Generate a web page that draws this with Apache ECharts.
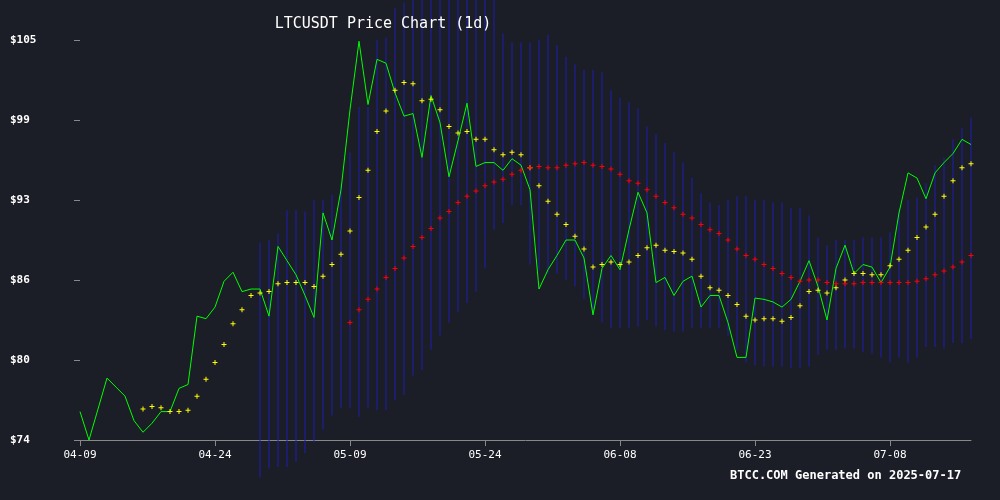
<!DOCTYPE html>
<html>
<head>
<meta charset="utf-8">
<script src="https://cdn.jsdelivr.net/npm/echarts@6/dist/echarts.min.js"></script>
<style>
  html, body { margin: 0; padding: 0; background: #1b1d27; }
  #main { width: 1000px; height: 500px; }
</style>
</head>
<body>
<div id="main"></div>
<script>
// 04-09 .. 07-17, one point per day
const dates = [];
(function () {
  const d = new Date(Date.UTC(2025, 3, 9));
  for (let i = 0; i < 100; i++) {
    dates.push(String(d.getUTCMonth() + 1).padStart(2, '0') + '-' + String(d.getUTCDate()).padStart(2, '0'));
    d.setUTCDate(d.getUTCDate() + 1);
  }
})();

const price = [
  76.2, 74.0, 76.4, 78.8, 78.1, 77.4, 75.5, 74.6, 75.3, 76.2,
  76.2, 78.0, 78.3, 83.6, 83.4, 84.3, 86.3, 87.0, 85.5, 85.7,
  85.7, 83.6, 89.0, 87.9, 86.8, 85.2, 83.5, 91.6, 89.5, 93.4,
  99.6, 104.9, 100.0, 103.5, 103.2, 100.9, 99.1, 99.3, 95.9, 100.7,
  98.6, 94.4, 97.2, 100.1, 95.2, 95.5, 95.5, 94.9, 95.8, 95.3,
  93.4, 85.7, 87.2, 88.3, 89.5, 89.5, 88.1, 83.7, 87.3, 88.3,
  87.2, 90.3, 93.2, 91.6, 86.2, 86.6, 85.2, 86.3, 86.7, 84.3,
  85.2, 85.2, 83.1, 80.4, 80.4, 85.0, 84.9, 84.7, 84.3, 84.9,
  86.3, 87.9, 85.9, 83.3, 87.3, 89.1, 86.9, 87.6, 87.4, 86.2,
  87.4, 91.6, 94.7, 94.3, 92.7, 94.7, 95.5, 96.2, 97.3, 96.9
];

const maShort = [
  null, null, null, null, null, null, null, 76.4, 76.6, 76.5,
  76.2, 76.2, 76.3, 77.4, 78.7, 80.0, 81.4, 83.0, 84.1, 85.2,
  85.4, 85.5, 86.1, 86.2, 86.2, 86.2, 85.9, 86.7, 87.6, 88.4,
  90.2, 92.8, 94.9, 97.9, 99.5, 101.1, 101.7, 101.6, 100.3, 100.4,
  99.6, 98.3, 97.8, 97.9, 97.3, 97.3, 96.5, 96.1, 96.3, 96.1,
  95.1, 93.7, 92.5, 91.5, 90.7, 89.8, 88.8, 87.4, 87.6, 87.8,
  87.6, 87.8, 88.3, 88.9, 89.1, 88.7, 88.6, 88.5, 88.0, 86.7,
  85.8, 85.6, 85.2, 84.5, 83.6, 83.3, 83.4, 83.4, 83.2, 83.5,
  84.4, 85.5, 85.6, 85.4, 85.8, 86.4, 86.9, 86.9, 86.8, 86.8,
  87.5, 88.0, 88.7, 89.7, 90.5, 91.5, 92.9, 94.1, 95.1, 95.4
];

const maLong = [
  null, null, null, null, null, null, null, null, null, null,
  null, null, null, null, null, null, null, null, null, null,
  null, null, null, null, null, null, null, null, null, null,
  83.1, 84.1, 84.9, 85.7, 86.6, 87.3, 88.1, 89.0, 89.7, 90.4,
  91.2, 91.7, 92.4, 92.9, 93.3, 93.7, 94.0, 94.2, 94.6, 94.9,
  95.1, 95.2, 95.1, 95.1, 95.3, 95.4, 95.5, 95.3, 95.2, 95.0,
  94.6, 94.1, 93.9, 93.4, 92.9, 92.4, 92.0, 91.5, 91.2, 90.7,
  90.3, 90.0, 89.5, 88.8, 88.3, 88.0, 87.6, 87.3, 86.9, 86.6,
  86.3, 86.4, 86.4, 86.2, 86.1, 86.1, 86.1, 86.2, 86.2, 86.2,
  86.2, 86.2, 86.2, 86.3, 86.5, 86.8, 87.1, 87.4, 87.8, 88.3
];

const bandUpper = [
  null, null, null, null, null, null, null, null, null, null,
  null, null, null, null, null, null, null, null, null, null,
  89.3, 89.5, 90.0, 91.8, 91.8, 91.7, 92.6, 92.6, 93.0, 93.8,
  96.3, 99.8, 99.8, 105.0, 105.2, 107.5, 107.9, 108.1, 108.1, 108.1,
  108.1, 108.1, 108.1, 108.1, 108.1, 108.1, 108.1, 105.5, 104.8, 104.8,
  104.8, 105.0, 105.4, 104.6, 103.7, 103.1, 102.7, 102.7, 102.5, 101.1,
  100.5, 100.2, 99.7, 98.3, 97.7, 97.0, 96.3, 95.5, 94.3, 93.1,
  92.4, 92.2, 92.6, 92.9, 92.9, 92.6, 92.6, 92.4, 92.4, 92.0,
  92.0, 91.4, 89.7, 89.1, 89.5, 89.5, 89.5, 89.7, 89.7, 89.7,
  90.1, 91.8, 92.6, 92.8, 93.9, 95.3, 95.9, 97.3, 98.2, 99.0
];

const bandLower = [
  null, null, null, null, null, null, null, null, null, null,
  null, null, null, null, null, null, null, null, null, null,
  71.1, 71.8, 71.9, 71.9, 72.3, 73.0, 73.8, 74.8, 75.9, 76.5,
  76.5, 75.8, 76.5, 76.3, 76.3, 77.1, 77.5, 79.0, 79.4, 81.0,
  82.1, 83.1, 83.9, 84.6, 85.5, 87.3, 90.3, 90.8, 92.2, 92.2,
  87.6, 87.2, 86.9, 86.9, 86.4, 85.9, 84.9, 83.7, 83.1, 82.7,
  82.7, 82.7, 82.8, 83.3, 82.8, 82.5, 82.4, 82.4, 82.7, 82.7,
  82.7, 82.7, 82.1, 81.0, 80.0, 79.8, 79.7, 79.7, 79.7, 79.6,
  79.6, 79.7, 80.6, 81.0, 81.0, 81.1, 81.1, 80.8, 80.7, 80.4,
  80.0, 80.4, 80.0, 80.4, 81.2, 81.2, 81.1, 81.5, 81.5, 81.8
];

const bandSpan = bandUpper.map((u, i) => u == null ? null : +(u - bandLower[i]).toFixed(1));

const plus = 'path://M4,0H6V4H10V6H6V10H4V6H0V4H4Z';
const mono = '"DejaVu Sans Mono", monospace';

const chart = echarts.init(document.getElementById('main'));
chart.setOption({
  backgroundColor: '#1b1d27',
  animation: false,
  title: {
    text: 'LTCUSDT Price Chart (1d)',
    left: 378, top: 12, textAlign: 'center',
    textStyle: { color: '#ffffff', fontFamily: mono, fontSize: 15, fontWeight: 'normal' }
  },
  graphic: [{
    type: 'text', left: 730, top: 470,
    style: { text: 'BTCC.COM Generated on 2025-07-17', fill: '#ffffff', font: 'bold 12px ' + mono }
  }],
  grid: { left: 80, right: 29, top: 40, bottom: 60 },
  xAxis: {
    type: 'category', data: dates, boundaryGap: false,
    axisLine: { lineStyle: { color: '#888888' } },
    axisTick: { length: 6, interval: (i) => i % 15 === 0, lineStyle: { color: '#888888' } },
    axisLabel: { interval: (i) => i % 15 === 0, color: '#ffffff', fontFamily: mono, fontSize: 11, margin: 10 },
    splitLine: { show: false }
  },
  yAxis: {
    type: 'value', min: 74, max: 105, interval: 6.2,
    axisLine: { show: false },
    axisTick: { show: true, length: 6, inside: false, lineStyle: { color: '#888888' } },
    axisLabel: {
      color: '#ffffff', fontFamily: mono, fontSize: 11, fontWeight: 'bold',
      align: 'left', margin: 70,
      formatter: (v) => '$' + Math.round(v)
    },
    splitLine: { show: false }
  },
  series: [
    {
      type: 'bar', stack: 'band', data: bandLower, barWidth: 1, clip: false,
      itemStyle: { color: 'rgba(0,0,0,0)' }, silent: true
    },
    {
      type: 'bar', stack: 'band', data: bandSpan, barWidth: 1, clip: false,
      itemStyle: { color: '#2020b0' }, silent: true
    },
    {
      type: 'line', data: price, symbol: 'none',
      lineStyle: { color: '#00ff00', width: 1 }
    },
    {
      type: 'line', data: maShort, symbol: plus, symbolSize: 5, showSymbol: true,
      lineStyle: { width: 0, opacity: 0 }, itemStyle: { color: '#ffff00' }
    },
    {
      type: 'line', data: maLong, symbol: plus, symbolSize: 5, showSymbol: true,
      lineStyle: { width: 0, opacity: 0 }, itemStyle: { color: '#ff0000' }
    }
  ]
});
</script>
</body>
</html>
